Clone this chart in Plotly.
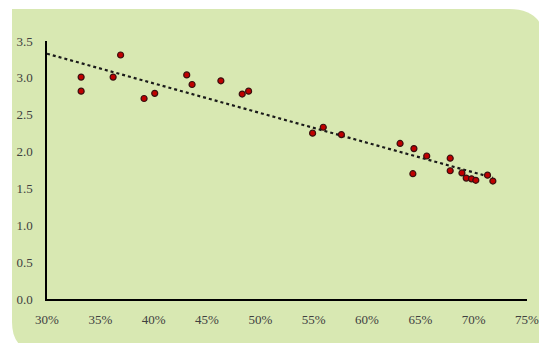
import numpy as np
import plotly.graph_objects as go

share = [0.332, 0.332, 0.362, 0.369, 0.391, 0.401, 0.431, 0.436, 0.463, 0.483, 0.489,
         0.549, 0.559, 0.576, 0.631, 0.643, 0.644, 0.656, 0.678, 0.678, 0.689, 0.693,
         0.698, 0.702, 0.713, 0.718]
value = [3.01, 2.82, 3.01, 3.31, 2.72, 2.79, 3.04, 2.91, 2.96, 2.78, 2.82,
         2.25, 2.33, 2.23, 2.11, 1.70, 2.04, 1.94, 1.91, 1.74, 1.71, 1.64,
         1.63, 1.61, 1.68, 1.60]

x_ticks = [0.30, 0.35, 0.40, 0.45, 0.50, 0.55, 0.60, 0.65, 0.70, 0.75]
y_ticks = [0.0, 0.5, 1.0, 1.5, 2.0, 2.5, 3.0, 3.5]

W, H = 539, 343
L, R, T, B = 47, 12, 41, 44
pw, ph = W - L - R, H - T - B

def px(x):
    return (x - L) / pw

def py(y):
    return (H - B - y) / ph

slope, icpt = np.polyfit(share, value, 1)
tx = np.array([0.30, max(share)])
ty = slope * tx + icpt

fig = go.Figure()
fig.add_trace(go.Scatter(x=tx, y=ty, mode="lines",
                         line=dict(color="#1a1a1a", width=2.2, dash="dot"),
                         hoverinfo="skip", showlegend=False))
fig.add_trace(go.Scatter(x=share, y=value, mode="markers",
                         marker=dict(color="#C00000", size=6,
                                     line=dict(color="#3a1010", width=1.2)),
                         showlegend=False))

# rounded background panel (pixel coords)
x0, y0, x1, y1, r1, r2 = 12, 9, 545, 352, 36, 30
path = (f"M {px(x0)},{py(y0)} L {px(x1 - r1)},{py(y0)} "
        f"Q {px(x1)},{py(y0)} {px(x1)},{py(y0 + r1)} "
        f"L {px(x1)},{py(y1)} L {px(x0 + r2)},{py(y1)} "
        f"Q {px(x0)},{py(y1)} {px(x0)},{py(y1 - r2)} Z")

fig.update_layout(
    width=W, height=H,
    margin=dict(l=L, r=R, t=T, b=B),
    paper_bgcolor="white", plot_bgcolor="rgba(0,0,0,0)",
    font=dict(family="Liberation Serif, Times New Roman, serif", size=13, color="#404040"),
    shapes=[dict(type="path", xref="paper", yref="paper", path=path,
                 fillcolor="#D8E8B2", line=dict(width=0), layer="below")],
    xaxis=dict(range=[0.30, 0.75], tickvals=x_ticks, tickformat=".0%",
               showgrid=False, zeroline=False, showline=True, linecolor="black",
               linewidth=1.5, ticks="", ticklabelstandoff=8, automargin=False,
               ticklabeloverflow="allow"),
    yaxis=dict(range=[0, 3.5], tickvals=y_ticks, tickformat=".1f",
               showgrid=False, zeroline=False, showline=True, linecolor="black",
               linewidth=1.5, ticks="", ticklabelstandoff=10, automargin=False),
)
fig.write_html("out.html", config={"displayModeBar": False},
               post_script="document.body.style.margin='0';document.body.style.overflow='hidden';")
